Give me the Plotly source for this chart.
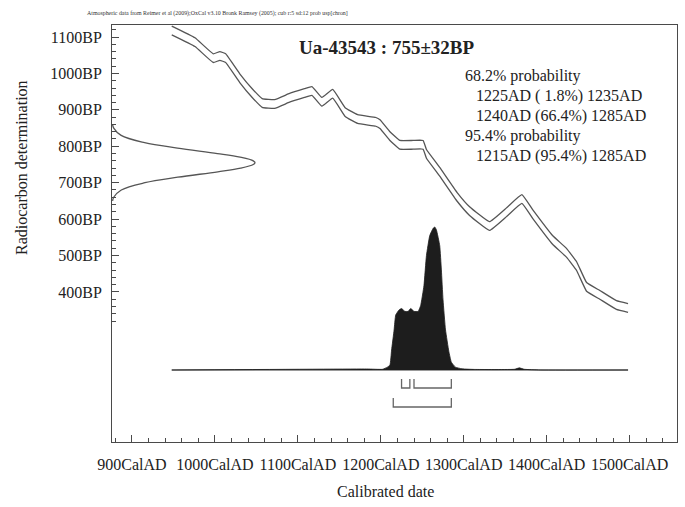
import plotly.graph_objects as go

# ---------------- data ----------------
curve_years = [948, 976, 998, 1006, 1013, 1030, 1045, 1057, 1072, 1090, 1108, 1117,
               1129, 1142, 1157, 1172, 1194, 1199, 1211, 1223, 1239, 1251, 1255,
               1271, 1292, 1307, 1331, 1352, 1370, 1383, 1407, 1424, 1436, 1448,
               1464, 1484, 1498]
curve_bp = [1118, 1086, 1042, 1048, 1042, 987, 946, 919, 916, 933, 946, 952,
            922, 944, 894, 875, 867, 861, 828, 804, 804, 804, 779,
            730, 661, 622, 581, 620, 655, 614, 543, 507, 471, 414,
            392, 364, 356]
curve_sigma = 12

dist_years = [948, 1183, 1202, 1208, 1211, 1213, 1216, 1218, 1222, 1225, 1229, 1233,
              1236, 1240, 1245, 1248, 1252, 1255, 1259, 1263, 1265, 1267, 1271,
              1273, 1275, 1278, 1282, 1285, 1290, 1298, 1313, 1361, 1367, 1373,
              1392, 1498]
dist_prob = [0.0, 0.007, 0.005, 0.02, 0.035, 0.14, 0.28, 0.385, 0.42, 0.43, 0.41, 0.41,
             0.43, 0.41, 0.41, 0.45, 0.59, 0.80, 0.94, 0.99, 1.0, 0.98, 0.87,
             0.70, 0.49, 0.28, 0.13, 0.055, 0.02, 0.008, 0.004, 0.005, 0.015, 0.005,
             0.0, 0.0]

meas_bp = [650, 660, 680, 700, 715, 730, 740, 750, 755, 760, 770, 780, 795, 810, 830, 850, 860]
meas_prob = [0.004, 0.012, 0.065, 0.23, 0.46, 0.74, 0.90, 0.988, 1.0, 0.988, 0.896, 0.737,
             0.458, 0.228, 0.064, 0.012, 0.004]

range68 = [(1225, 1235), (1240, 1285)]
range95 = [(1215, 1285)]

x_tick_years = [900, 1000, 1100, 1200, 1300, 1400, 1500]
x_tick_labels = ["900CalAD", "1000CalAD", "1100CalAD", "1200CalAD",
                 "1300CalAD", "1400CalAD", "1500CalAD"]
y_tick_bp = [400, 500, 600, 700, 800, 900, 1000, 1100]
y_tick_labels = ["400BP", "500BP", "600BP", "700BP", "800BP", "900BP", "1000BP", "1100BP"]

title_text = "Ua-43543 : 755±32BP"
note_text = ("Atmospheric data from Reimer et al (2009);OxCal v3.10 Bronk Ramsey (2005); "
             "cub r:5 sd:12 prob usp[chron]")
prob_lines = ["68.2% probability",
              "  1225AD ( 1.8%) 1235AD",
              "  1240AD (66.4%) 1285AD",
              "95.4% probability",
              "  1215AD (95.4%) 1285AD"]

# ---------------- layout geometry (pixels) ----------------
W, H = 685, 507
L, R, T, B = 112, 677, 25, 442
PW, PH = R - L, B - T
X_RANGE = [876, 1557]
Y_RANGE = [-12, 1133]
FONT = "Liberation Serif, Times New Roman, serif"
LINE = "#4a4a4a"


def pxx(px):
    return (px - L) / PW


def pxy(py):
    return (B - py) / PH


# secondary axis for the probability distribution: 0 at y=370 px, 1 at y=227 px
base_px, peak_px = 370, 227
span2 = PH / (base_px - peak_px)
top2 = (base_px - T) / PH * span2
Y2_RANGE = [top2 - span2, top2]


def y2_of_px(py):
    return top2 - (py - T) / PH * span2


# secondary x axis for the measurement curve: 0 at frame, 1 at x=255 px
X2_RANGE = [0, PW / (255 - L)]

upper = [b + curve_sigma for b in curve_bp]
lower = [b - curve_sigma for b in curve_bp]

fig = go.Figure()

# calibration curve (two outline lines)
for ys in (upper, lower):
    fig.add_trace(go.Scatter(x=curve_years, y=ys, mode="lines",
                             line=dict(color="#555555", width=1.3, shape="spline", smoothing=0.3),
                             hoverinfo="skip", showlegend=False))

# baseline of the calibrated distribution
fig.add_trace(go.Scatter(x=[dist_years[0], dist_years[-1]], y=[0, 0], yaxis="y2",
                         mode="lines", line=dict(color="#9a9a9a", width=2.2),
                         hoverinfo="skip", showlegend=False))
# calibrated distribution
fig.add_trace(go.Scatter(x=dist_years, y=dist_prob, yaxis="y2", mode="lines",
                         fill="tozeroy", fillcolor="#1d1d1d",
                         line=dict(color="#1d1d1d", width=0.8, shape="spline", smoothing=0.4),
                         hoverinfo="skip", showlegend=False))


# range brackets
def bracket_trace(ranges, top_px, bot_px):
    xs, ys = [], []
    yt, yb = y2_of_px(top_px), y2_of_px(bot_px)
    for s, e in ranges:
        xs += [s, s, e, e, None]
        ys += [yt, yb, yb, yt, None]
    return go.Scatter(x=xs, y=ys, yaxis="y2", mode="lines",
                      line=dict(color="#666666", width=1.3),
                      hoverinfo="skip", showlegend=False)


fig.add_trace(bracket_trace(range68, 379, 388))
fig.add_trace(bracket_trace(range95, 398, 407))

# radiocarbon measurement distribution on the y axis
fig.add_trace(go.Scatter(x=meas_prob, y=meas_bp, xaxis="x2", mode="lines",
                         line=dict(color="#555555", width=1.3, shape="spline"),
                         hoverinfo="skip", showlegend=False))

minor_x = [v for v in range(880, 1560, 20) if v % 100 != 0]
minor_y = [v for v in range(320, 1140, 20) if v % 100 != 0]

fig.update_layout(
    width=W, height=H,
    margin=dict(l=L, r=W - R, t=T, b=H - B),
    paper_bgcolor="white", plot_bgcolor="white",
    font=dict(family=FONT, size=16, color="#222222"),
    showlegend=False,
    hovermode=False,
    xaxis=dict(range=X_RANGE, showgrid=False, zeroline=False,
               showline=True, mirror=True, linecolor=LINE, linewidth=1,
               ticks="inside", ticklen=7, tickwidth=1, tickcolor=LINE,
               tickmode="array", tickvals=x_tick_years, ticktext=x_tick_labels,
               tickfont=dict(family=FONT, size=16, color="#222222"),
               ticklabelstandoff=8,
               minor=dict(tickmode="array", tickvals=minor_x, ticks="inside",
                          ticklen=4, tickwidth=1, tickcolor=LINE, showgrid=False)),
    yaxis=dict(range=Y_RANGE, showgrid=False, zeroline=False,
               showline=True, mirror=True, linecolor=LINE, linewidth=1,
               ticks="inside", ticklen=7, tickwidth=1, tickcolor=LINE,
               tickmode="array", tickvals=y_tick_bp, ticktext=y_tick_labels,
               tickfont=dict(family=FONT, size=16, color="#222222"),
               ticklabelstandoff=6,
               minor=dict(tickmode="array", tickvals=minor_y, ticks="inside",
                          ticklen=4, tickwidth=1, tickcolor=LINE, showgrid=False)),
    yaxis2=dict(range=Y2_RANGE, overlaying="y", visible=False, showgrid=False),
    xaxis2=dict(range=X2_RANGE, overlaying="x", visible=False, showgrid=False, anchor="y"),
)

ann = []
ann.append(dict(text="<b>" + title_text + "</b>", x=pxx(386), y=pxy(47),
                xref="paper", yref="paper", xanchor="center", yanchor="middle",
                showarrow=False, font=dict(family=FONT, size=19, color="#222222")))
ann.append(dict(text=note_text, x=pxx(85), y=pxy(14), xref="paper", yref="paper",
                xanchor="left", yanchor="middle", showarrow=False,
                font=dict(family=FONT, size=5.9, color="#333333")))
line_y = [76, 96, 116, 136, 156]
for txt, yy in zip(prob_lines, line_y):
    indent = txt.startswith("  ")
    ann.append(dict(text=txt.strip(), x=pxx(474 if indent else 463), y=pxy(yy),
                    xref="paper", yref="paper", xanchor="left", yanchor="middle",
                    showarrow=False, font=dict(family=FONT, size=16, color="#222222")))
ann.append(dict(text="Radiocarbon determination", x=pxx(21), y=pxy(168),
                xref="paper", yref="paper", xanchor="center", yanchor="middle",
                textangle=-90, showarrow=False,
                font=dict(family=FONT, size=16, color="#222222")))
ann.append(dict(text="Calibrated date", x=pxx(385), y=pxy(492),
                xref="paper", yref="paper", xanchor="center", yanchor="middle",
                showarrow=False, font=dict(family=FONT, size=16, color="#222222")))
fig.update_layout(annotations=ann)

fig.write_html("out.html",
               config={"displayModeBar": False, "staticPlot": True},
               post_script="document.body.style.margin='0';document.body.style.padding='0';"
                           "document.documentElement.style.overflow='hidden';")
